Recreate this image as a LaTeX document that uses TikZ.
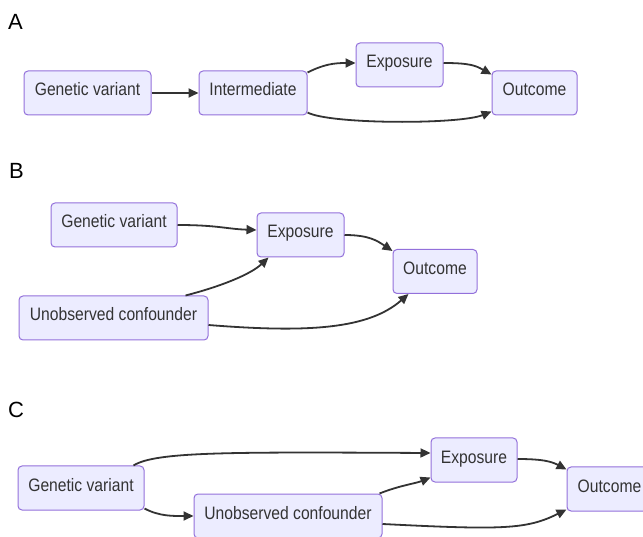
\documentclass[tikz,border=0pt]{standalone}
\usepackage{fontspec}
\setmainfont{Liberation Sans}
\newfontfamily\boxfont[FakeStretch=0.87]{Liberation Sans}
\usetikzlibrary{arrows.meta,calc}
\definecolor{boxfill}{HTML}{ECECFF}
\definecolor{boxline}{HTML}{9370DB}
\definecolor{edgecol}{HTML}{333333}
\definecolor{txtcol}{HTML}{333333}
\tikzset{
  mbox/.style={draw=boxline, fill=boxfill, line width=1pt, rounded corners=4pt,
    minimum height=44pt, inner sep=0pt, text height=12pt, text depth=6pt,
    font=\boxfont\fontsize{18}{20}\selectfont, text=txtcol},
  edge/.style={draw=edgecol, line width=1.8pt, -{Triangle[length=10pt,width=9pt]}},
  panel/.style={anchor=base west, inner sep=0pt, font=\fontsize{22}{24}\selectfont, text=black}
}
\begin{document}
\begin{tikzpicture}[x=1pt,y=1pt]
\useasboundingbox (0,0) rectangle (643,536);
% ---------- A ----------
\node[panel] (labA) at (8,506) {A};
\node[mbox, minimum width=127pt] (gvA) at (87.5,443) {Genetic variant};
\node[mbox, minimum width=108pt] (intA) at (253,443) {Intermediate};
\node[mbox, minimum width=87pt] (expA) at (399.5,471) {Exposure};
\node[mbox, minimum width=85pt] (outA) at (534.5,443) {Outcome};
\draw[edge] (gvA.east) -- (intA.west);
\draw[edge] ($(intA.north east)+(0,-2)$) .. controls +(16,8) and +(-22,0) .. ($(expA.west)+(0,2)$);
\draw[edge] ($(expA.east)+(0,2)$) .. controls +(26,0) and +(-16,9) .. ($(outA.north west)+(0,-4)$);
\draw[edge] ($(intA.south east)+(0,3)$) .. controls +(23,-12) and +(-32,-13) .. ($(outA.south west)+(0,4)$);
% ---------- B ----------
\node[panel] (labB) at (9,357) {B};
\node[mbox, minimum width=126pt] (gvB) at (114,311) {Genetic variant};
\node[mbox, minimum width=87pt] (expB) at (300.5,301) {Exposure};
\node[mbox, minimum width=84pt] (outB) at (435,264.5) {Outcome};
\node[mbox, minimum width=189pt] (ucB) at (113.5,218) {Unobserved confounder};
\draw[edge] (gvB.east) .. controls +(40,0) and +(-30,1) .. ($(expB.west)+(0,5)$);
\draw[edge] (expB.east) .. controls +(25,0) and +(-15,10) .. ($(outB.north west)+(0,-2)$);
\draw[edge] ($(ucB.north east)+(-23,0)$) .. controls +(35,9) and +(-18,-17) .. ($(expB.south west)+(12,0)$);
\draw[edge] ($(ucB.east)+(0,-7)$) .. controls +(100,-8) and +(-40,-35) .. ($(outB.south west)+(16,0)$);
% ---------- C ----------
\node[panel] (labC) at (8,118) {C};
\node[mbox, minimum width=126pt] (gvC) at (81,48) {Genetic variant};
\node[mbox, minimum width=188pt] (ucC) at (288,20) {Unobserved confounder};
\node[mbox, minimum width=86pt] (expC) at (474,76) {Exposure};
\node[mbox, minimum width=85pt] (outC) at (609.5,47) {Outcome};
\draw[edge] ($(gvC.north east)+(-11,0)$) .. controls +(22,14) and +(-200,1) .. ($(expC.west)+(0,7)$);
\draw[edge] ($(gvC.south east)+(0,2)$) .. controls +(15,-8) and +(-20,0) .. (ucC.west);
\draw[edge] ($(expC.east)+(0,1)$) .. controls +(25,0) and +(-15,8) .. ($(outC.north west)+(0,-3)$);
\draw[edge] ($(ucC.north east)+(-3,0)$) .. controls +(20,8) and +(-15,-6) .. ($(expC.south west)+(0,5)$);
\draw[edge] ($(ucC.east)+(0,-8)$) .. controls +(120,-6) and +(-40,-20) .. ($(outC.south west)+(0,2)$);
\end{tikzpicture}
\end{document}
